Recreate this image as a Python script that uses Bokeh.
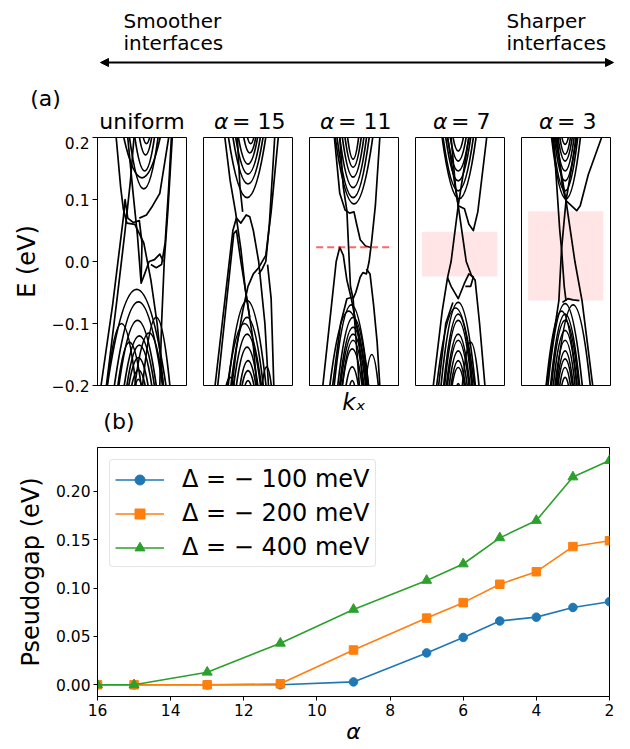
from bokeh.plotting import figure
from bokeh.layouts import column, row
from bokeh.models import (Range1d, FixedTicker, Arrow, NormalHead, Legend,
                          LegendItem, NumeralTickFormatter)
from bokeh.embed import file_html
from bokeh.resources import INLINE
from bokeh.core.properties import value

FONT = "DejaVu Sans"

# ---------------- panel (b) data ----------------
ALPHA = [16, 15, 13, 11, 9, 7, 6, 5, 4, 3, 2]
GAP_100 = [0.0, 0.0, 0.0, 0.0, 0.003, 0.033, 0.049, 0.066, 0.070, 0.080, 0.086]
GAP_200 = [0.0, 0.0, 0.0, 0.001, 0.036, 0.069, 0.085, 0.104, 0.117, 0.143, 0.149]
GAP_400 = [0.0, 0.0, 0.013, 0.043, 0.078, 0.108, 0.125, 0.152, 0.170, 0.215, 0.232]
SERIES_LABELS = ["Δ = − 100 meV", "Δ = − 200 meV", "Δ = − 400 meV"]
SERIES_COLORS = ["#1f77b4", "#ff7f0e", "#2ca02c"]
SERIES_MARKERS = ["circle", "square", "triangle"]
ALPHA_TICKS = [16, 14, 12, 10, 8, 6, 4, 2]
GAP_TICKS = [0.0, 0.05, 0.10, 0.15, 0.20]

# ---------------- panel (a) data ----------------
PANEL_NAMES = ["uniform", "15", "11", "7", "3"]
E_TICKS = [-0.2, -0.1, 0.0, 0.1, 0.2]
E_TICK_TEXT = ["−0.2", "−0.1", "0.0", "0.1", "0.2"]

# conduction-like subbands: (k centre, band minimum E, half width at frame edge)
COND_UNIFORM = [(0.52, 0.117, 0.17), (0.53, 0.146, 0.12), (0.54, 0.172, 0.08),
                (0.55, 0.19, 0.05), (0.50, 0.135, 0.22)]
COND_15 = [(0.50, 0.157, 0.12), (0.50, 0.141, 0.15), (0.50, 0.125, 0.18),
           (0.49, 0.103, 0.22), (0.52, 0.175, 0.08), (0.53, 0.19, 0.05)]
COND_11 = [(0.49, 0.165, 0.07), (0.49, 0.152, 0.10), (0.49, 0.136, 0.13),
           (0.49, 0.119, 0.16), (0.49, 0.103, 0.19), (0.50, 0.093, 0.22)]
COND_7 = [(0.48, 0.178, 0.07), (0.48, 0.162, 0.10), (0.48, 0.146, 0.13),
          (0.48, 0.130, 0.15), (0.48, 0.114, 0.18), (0.49, 0.101, 0.20)]
COND_3 = [(0.49, 0.189, 0.05), (0.49, 0.173, 0.07), (0.49, 0.162, 0.09),
          (0.49, 0.146, 0.11), (0.49, 0.130, 0.13), (0.49, 0.114, 0.15),
          (0.50, 0.101, 0.17)]

# valence-like subbands: (k centre, band maximum E, half width at frame edge)
VAL_UNIFORM = [(0.44, -0.045, 0.34), (0.46, -0.065, 0.28), (0.45, -0.095, 0.22),
               (0.47, -0.12, 0.18), (0.47, -0.135, 0.15), (0.46, -0.155, 0.12),
               (0.46, -0.175, 0.09), (0.46, -0.19, 0.05), (0.27, -0.10, 0.17),
               (0.66, -0.09, 0.16), (0.58, -0.115, 0.17), (0.36, -0.13, 0.14)]
VAL_15 = [(0.49, -0.063, 0.22), (0.49, -0.09, 0.19), (0.49, -0.117, 0.16),
          (0.49, -0.138, 0.13), (0.50, -0.16, 0.10), (0.50, -0.176, 0.08),
          (0.50, -0.192, 0.05), (0.71, -0.17, 0.06), (0.30, -0.187, 0.06),
          (0.46, -0.10, 0.20)]
VAL_11 = [(0.47, -0.07, 0.20), (0.49, -0.09, 0.18), (0.49, -0.106, 0.16),
          (0.49, -0.117, 0.15), (0.49, -0.127, 0.13), (0.48, -0.141, 0.12),
          (0.48, -0.17, 0.08), (0.48, -0.192, 0.04), (0.70, -0.15, 0.08),
          (0.44, -0.08, 0.22)]
VAL_7 = [(0.48, -0.066, 0.20), (0.48, -0.085, 0.17), (0.48, -0.095, 0.16),
         (0.48, -0.117, 0.14), (0.48, -0.127, 0.13), (0.48, -0.144, 0.11),
         (0.48, -0.16, 0.09), (0.48, -0.171, 0.08), (0.48, -0.197, 0.03),
         (0.45, -0.075, 0.22), (0.62, -0.13, 0.10)]
VAL_3 = [(0.49, -0.068, 0.20), (0.49, -0.085, 0.17), (0.49, -0.095, 0.16),
         (0.49, -0.111, 0.14), (0.49, -0.127, 0.12), (0.49, -0.144, 0.10),
         (0.49, -0.157, 0.09), (0.49, -0.171, 0.07), (0.49, -0.187, 0.05),
         (0.45, -0.08, 0.18), (0.58, -0.07, 0.20)]

# other (linear / anticrossing) bands: lists of (k, E) points
LINES_UNIFORM = [
    [(0.04, -0.2), (0.17, -0.07), (0.29, 0.07), (0.31, 0.10), (0.34, 0.07), (0.40, 0.063), (0.47, 0.066), (0.50, 0.03), (0.49, -0.03)],
    [(0.21, 0.2), (0.26, 0.12), (0.29, 0.085), (0.33, 0.062), (0.42, 0.06), (0.52, 0.03), (0.60, -0.03), (0.67, -0.10), (0.74, -0.2)],
    [(0.10, -0.2), (0.22, -0.06), (0.31, 0.05), (0.37, 0.13), (0.41, 0.2)],
    [(0.84, 0.2), (0.79, 0.08), (0.75, 0.0), (0.72, -0.1), (0.70, -0.2)],
    [(0.80, 0.2), (0.70, 0.11), (0.62, 0.09), (0.55, 0.075), (0.47, 0.07)],
    [(0.34, 0.2), (0.40, 0.11), (0.45, 0.04), (0.49, -0.035), (0.53, -0.02), (0.58, 0.0), (0.64, 0.003), (0.70, 0.012), (0.74, 0.0)],
    [(0.60, -0.005), (0.66, -0.01), (0.72, -0.005), (0.76, 0.03), (0.80, 0.12), (0.83, 0.2)],
]
LINES_15 = [
    [(0.13, -0.2), (0.25, -0.05), (0.33, 0.05), (0.37, 0.07), (0.42, 0.062), (0.48, 0.075), (0.52, 0.072), (0.56, 0.05), (0.62, 0.0), (0.69, -0.1), (0.73, -0.2)],
    [(0.16, -0.2), (0.27, -0.05), (0.34, 0.045), (0.37, 0.05), (0.42, 0.0), (0.47, -0.045), (0.55, -0.12), (0.60, -0.2)],
    [(0.24, 0.2), (0.30, 0.13), (0.36, 0.08), (0.42, 0.02), (0.47, -0.045), (0.52, -0.09)],
    [(0.84, 0.2), (0.76, 0.08), (0.70, 0.01), (0.62, -0.01), (0.56, -0.02), (0.50, -0.04), (0.44, -0.08), (0.37, -0.14), (0.32, -0.2)],
    [(0.80, 0.2), (0.74, 0.06), (0.70, 0.0), (0.66, -0.012), (0.62, -0.02)],
    [(0.72, -0.005), (0.76, -0.06), (0.79, -0.2)],
    [(0.38, 0.2), (0.41, 0.12), (0.44, 0.08)],
]
LINES_11 = [
    [(0.28, 0.2), (0.34, 0.11), (0.40, 0.083), (0.45, 0.078), (0.50, 0.08), (0.53, 0.06), (0.57, 0.035), (0.63, 0.025), (0.68, 0.023)],
    [(0.79, 0.2), (0.74, 0.09), (0.70, 0.035), (0.67, 0.0), (0.64, -0.02), (0.60, -0.018), (0.57, -0.025), (0.52, -0.05), (0.49, -0.06)],
    [(0.64, -0.012), (0.68, -0.02), (0.72, -0.07), (0.76, -0.13), (0.79, -0.2)],
    [(0.15, -0.2), (0.24, -0.08), (0.30, 0.0), (0.34, 0.023), (0.38, 0.01), (0.42, -0.03), (0.47, -0.06), (0.55, -0.12), (0.60, -0.2)],
    [(0.34, 0.2), (0.38, 0.12), (0.42, 0.082), (0.44, 0.02), (0.46, -0.04), (0.49, -0.06), (0.52, -0.12), (0.56, -0.2)],
    [(0.26, -0.2), (0.35, -0.1), (0.42, -0.06), (0.47, -0.058)],
]
LINES_7 = [
    [(0.40, 0.2), (0.45, 0.12), (0.48, 0.09), (0.55, 0.085), (0.60, 0.06), (0.65, 0.05), (0.70, 0.08), (0.80, 0.2)],
    [(0.36, 0.2), (0.48, 0.09), (0.57, 0.0), (0.63, -0.023), (0.67, -0.03), (0.72, -0.1), (0.78, -0.2)],
    [(0.60, 0.2), (0.48, 0.09), (0.40, 0.0), (0.36, -0.026), (0.30, -0.08), (0.20, -0.2)],
    [(0.36, -0.026), (0.40, -0.04), (0.48, -0.06), (0.55, -0.035), (0.60, -0.02), (0.65, -0.025), (0.62, -0.04), (0.56, -0.04)],
    [(0.26, -0.2), (0.34, -0.1), (0.42, -0.066)],
]
LINES_3 = [
    [(0.40, 0.2), (0.46, 0.12), (0.50, 0.098), (0.56, 0.09), (0.62, 0.082), (0.66, 0.09), (0.75, 0.14), (0.90, 0.2)],
    [(0.38, 0.2), (0.50, 0.098), (0.60, 0.0), (0.68, -0.063), (0.73, -0.12), (0.80, -0.2)],
    [(0.62, 0.2), (0.50, 0.098), (0.45, 0.02), (0.42, -0.063), (0.35, -0.13), (0.28, -0.2)],
    [(0.36, 0.2), (0.43, 0.05), (0.45, 0.02), (0.48, -0.04), (0.50, -0.063)],
    [(0.46, -0.066), (0.52, -0.06), (0.58, -0.062), (0.65, -0.063)],
]

# pseudogap window shown in panels α=7 and α=3 (k from, k to, E low, E high)
GAP_WINDOW_7 = (0.072, 0.92, -0.024, 0.048)
GAP_WINDOW_3 = (0.075, 0.918, -0.063, 0.081)
# zero-gap level marked in panel α=11 (k from, k to, E)
LEVEL_11 = (0.075, 0.925, 0.023)

PANELS = [
    (COND_UNIFORM, VAL_UNIFORM, LINES_UNIFORM),
    (COND_15, VAL_15, LINES_15),
    (COND_11, VAL_11, LINES_11),
    (COND_7, VAL_7, LINES_7),
    (COND_3, VAL_3, LINES_3),
]

# ---------------- layout constants (pixels) ----------------
HEAD_H = 136
FRAME_W = 89
FRAME_H = 248
BOTTOM_Y = 446                       # top of the pseudogap figure
P1_BORDER_BOTTOM = 12                # panel 1 stops early; "(b)" lives below it
ROW_H = BOTTOM_Y - HEAD_H            # panels 2..5
P1_H = 1 + FRAME_H + P1_BORDER_BOTTOM
FRAME_LEFTS = [97, 203, 309, 415, 521]
EDGE = 0.21


def canvas(width, height, top):
    """A figure whose data coordinates are page pixels (y downwards)."""
    f = figure(width=width, height=height, x_range=Range1d(0, width), y_range=Range1d(top + height, top),
               x_axis_location=None, y_axis_location=None, output_backend="svg",
               toolbar_location=None, min_border=0, min_border_left=0, min_border_right=0,
               min_border_top=0, min_border_bottom=0, outline_line_color=None)
    f.grid.visible = False
    return f


# ---------------- header ----------------
head = canvas(630, HEAD_H, 0)
head.text(x=[123, 123, 506, 506], y=[20, 42, 20, 42],
          text=["Smoother", "interfaces", "Sharper", "interfaces"],
          text_font=value(FONT), text_font_size="20px", text_align="left",
          text_baseline="middle", text_color="black")
head.add_layout(Arrow(x_start=100, y_start=62, x_end=613, y_end=62, line_width=2, line_color="black",
                      start=NormalHead(size=8, fill_color="black", line_color="black"),
                      end=NormalHead(size=8, fill_color="black", line_color="black")))
head.text(x=[45], y=[98], text=["(a)"], text_font=value(FONT), text_font_size="22px",
          text_align="center", text_baseline="middle", text_color="black")
centers = [l + FRAME_W / 2 for l in FRAME_LEFTS]
TITLE_Y = 121
head.text(x=[centers[0]], y=[TITLE_Y], text=[PANEL_NAMES[0]], text_font=value(FONT),
          text_font_size="22px", text_align="center", text_baseline="middle", text_color="black")
for c, name in zip(centers[1:], PANEL_NAMES[1:]):
    half = 34 if len(name) == 2 else 27
    head.text(x=[c - half], y=[TITLE_Y], text=["α"], text_font=value(FONT), text_font_size="22px",
              text_font_style="italic", text_align="left", text_baseline="middle", text_color="black")
    head.text(x=[c - half + 18], y=[TITLE_Y], text=["= " + name], text_font=value(FONT),
              text_font_size="22px", text_align="left", text_baseline="middle", text_color="black")

# ---------------- band panels ----------------
panels = []
for i, (cond, val, lines) in enumerate(PANELS):
    left = 97 if i == 0 else 16
    height = P1_H if i == 0 else ROW_H
    p = figure(width=left + FRAME_W + 1, height=height, x_range=Range1d(0, 1), y_range=Range1d(-0.2, 0.2),
               x_axis_location=("below" if i == 2 else None), y_axis_location=("left" if i == 0 else None),
               output_backend="svg", toolbar_location=None,
               min_border_left=left, min_border_right=1, min_border_top=1,
               min_border_bottom=height - 1 - FRAME_H)
    p.grid.visible = False
    p.outline_line_color = "black"
    p.outline_line_width = 1
    if i == 3:
        k0, k1, e0, e1 = GAP_WINDOW_7
        p.quad(left=[k0], right=[k1], bottom=[e0], top=[e1], fill_color="red", fill_alpha=0.1, line_color=None)
    if i == 4:
        k0, k1, e0, e1 = GAP_WINDOW_3
        p.quad(left=[k0], right=[k1], bottom=[e0], top=[e1], fill_color="red", fill_alpha=0.1, line_color=None)
    p.quadratic(x0=[c[0] - c[2] for c in cond], y0=[EDGE] * len(cond),
                x1=[c[0] + c[2] for c in cond], y1=[EDGE] * len(cond),
                cx=[c[0] for c in cond], cy=[2 * c[1] - EDGE for c in cond],
                line_color="black", line_width=1.7)
    p.quadratic(x0=[v[0] - v[2] for v in val], y0=[-EDGE] * len(val),
                x1=[v[0] + v[2] for v in val], y1=[-EDGE] * len(val),
                cx=[v[0] for v in val], cy=[2 * v[1] + EDGE for v in val],
                line_color="black", line_width=1.7)
    p.multi_line(xs=[[pt[0] for pt in ln] for ln in lines], ys=[[pt[1] for pt in ln] for ln in lines],
                 line_color="black", line_width=1.7, line_join="round")
    if i == 2:
        k0, k1, e = LEVEL_11
        p.line(x=[k0, k1], y=[e, e], line_color="red", line_alpha=0.6, line_width=2, line_dash="7 4")
        ax = p.xaxis[0]
        ax.ticker = FixedTicker(ticks=[])
        ax.major_tick_out = 0
        ax.major_tick_in = 0
        ax.minor_tick_line_color = None
        ax.axis_line_color = "black"
        ax.axis_label = "kₓ"
        ax.axis_label_text_font = FONT
        ax.axis_label_text_font_size = "23px"
        ax.axis_label_text_font_style = "italic"
        ax.axis_label_text_color = "black"
        ax.axis_label_standoff = 3
    if i == 0:
        ax = p.yaxis[0]
        ax.ticker = FixedTicker(ticks=E_TICKS)
        ax.major_label_overrides = {t: s for t, s in zip(E_TICKS, E_TICK_TEXT)}
        ax.major_label_text_font = FONT
        ax.major_label_text_font_size = "15.5px"
        ax.major_label_text_color = "black"
        ax.major_label_standoff = 3
        ax.major_tick_out = 5
        ax.major_tick_in = 0
        ax.minor_tick_line_color = None
        ax.axis_line_color = "black"
        ax.major_tick_line_color = "black"
        ax.axis_label = "E (eV)"
        ax.axis_label_text_font = FONT
        ax.axis_label_text_font_size = "24px"
        ax.axis_label_text_font_style = "normal"
        ax.axis_label_text_color = "black"
        ax.axis_label_standoff = 8
    panels.append(p)

# ---------------- "(b)" below panel 1 ----------------
strip_top = HEAD_H + P1_H
strip = canvas(panels[0].width, BOTTOM_Y - strip_top, strip_top)
strip.text(x=[45], y=[421], text=["(b)"], text_font=value(FONT), text_font_size="22px",
           text_align="center", text_baseline="middle", text_color="black")

# ---------------- pseudogap panel ----------------
pb = figure(width=630, height=749 - BOTTOM_Y, x_range=Range1d(16, 2), y_range=Range1d(-0.0121, 0.2455),
            output_backend="svg", toolbar_location=None,
            min_border_left=97, min_border_right=21, min_border_top=1, min_border_bottom=53)
pb.grid.visible = False
pb.outline_line_color = "black"
items = []
for ys, col, mk, lab in zip([GAP_100, GAP_200, GAP_400], SERIES_COLORS, SERIES_MARKERS, SERIES_LABELS):
    r1 = pb.line(ALPHA, ys, line_color=col, line_width=1.6)
    size = 10 if mk == "triangle" else 8.5
    r2 = pb.scatter(ALPHA, ys, marker=mk, size=size, fill_color=col, line_color=col)
    items.append(LegendItem(label=lab, renderers=[r1, r2]))
leg = Legend(items=items, location="top_left", margin=12, padding=5, spacing=6,
             glyph_width=49, glyph_height=25, label_height=25, label_standoff=18,
             label_text_font=FONT, label_text_font_size="24px", label_text_color="black",
             border_line_color="#cccccc", border_line_width=1, background_fill_alpha=0.8)
if "border_radius" in Legend.properties():
    leg.border_radius = 4
pb.add_layout(leg)
for ax in (pb.xaxis[0], pb.yaxis[0]):
    ax.major_label_text_font = FONT
    ax.major_label_text_font_size = "15.5px"
    ax.major_label_text_color = "black"
    ax.major_label_standoff = 3
    ax.major_tick_out = 4
    ax.major_tick_in = 0
    ax.minor_tick_line_color = None
    ax.axis_line_color = "black"
    ax.major_tick_line_color = "black"
    ax.axis_label_text_font = FONT
    ax.axis_label_text_color = "black"
pb.xaxis.ticker = FixedTicker(ticks=ALPHA_TICKS)
pb.yaxis.ticker = FixedTicker(ticks=GAP_TICKS)
pb.yaxis.formatter = NumeralTickFormatter(format="0.00")
pb.xaxis.axis_label = "α"
pb.xaxis.axis_label_text_font_style = "italic"
pb.xaxis.axis_label_text_font_size = "22px"
pb.xaxis.axis_label_standoff = 0
pb.yaxis.axis_label = "Pseudogap (eV)"
pb.yaxis.axis_label_text_font_style = "normal"
pb.yaxis.axis_label_text_font_size = "24px"
pb.yaxis.axis_label_standoff = 8

layout = column(row(head),
                row(column(panels[0], strip, spacing=0), *panels[1:], spacing=0),
                row(pb), spacing=0)
open("out.html", "w").write(file_html(layout, INLINE))
